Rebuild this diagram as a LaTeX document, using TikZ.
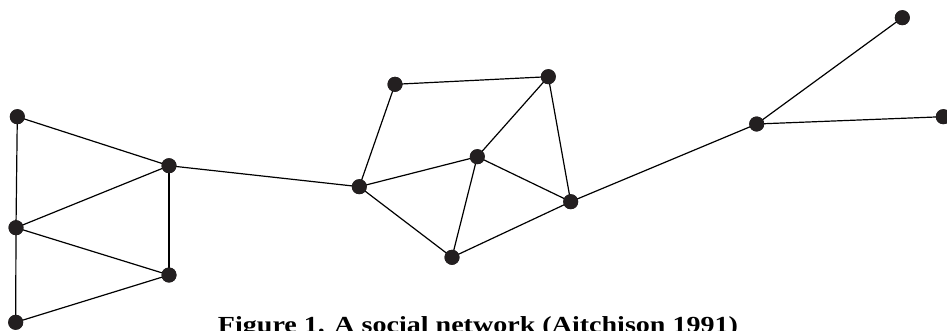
\documentclass[tikz,border=0pt]{standalone}
\usepackage{fontspec}
\setmainfont{Liberation Serif}
\begin{document}
\begin{tikzpicture}[x=1pt,y=-1pt,
  dot/.style={circle,fill=dotcol,inner sep=0pt,minimum size=15pt},
  edge/.style={line width=1.2pt,draw=black}]
\definecolor{dotcol}{HTML}{231F20}
\useasboundingbox (0,0) rectangle (947,330);
\node[dot] (A) at (17.3,116.7) {};
\node[dot] (B) at (169,165.7) {};
\node[dot] (C) at (16,227.7) {};
\node[dot] (D) at (169,275) {};
\node[dot] (E) at (15.7,322.3) {};
\node[dot] (F) at (359.3,186.7) {};
\node[dot] (G) at (395,84.3) {};
\node[dot] (H) at (548.3,76.7) {};
\node[dot] (I) at (477.3,156.7) {};
\node[dot] (J) at (570.7,201.7) {};
\node[dot] (K) at (452,257.3) {};
\node[dot] (L) at (756.7,124) {};
\node[dot] (M) at (902.3,17.7) {};
\node[dot] (N) at (943.3,116.7) {};
\foreach \a/\b in {A/B,A/C,C/B,B/D,C/D,C/E,E/D,B/F,F/G,G/H,H/I,H/J,F/I,F/K,I/K,I/J,K/J,J/L,L/M,L/N}
  \draw[edge] (\a.center) -- (\b.center);
\foreach \n in {A,B,C,D,E,F,G,H,I,J,K,L,M,N}
  \fill[dotcol] (\n) circle (7.5pt);
\node[anchor=base,font=\fontsize{23}{26}\selectfont\bfseries,inner sep=0pt,xscale=1.22] (cap) at (478,332) {Figure 1. A social network (Aitchison 1991)};
\end{tikzpicture}
\end{document}
